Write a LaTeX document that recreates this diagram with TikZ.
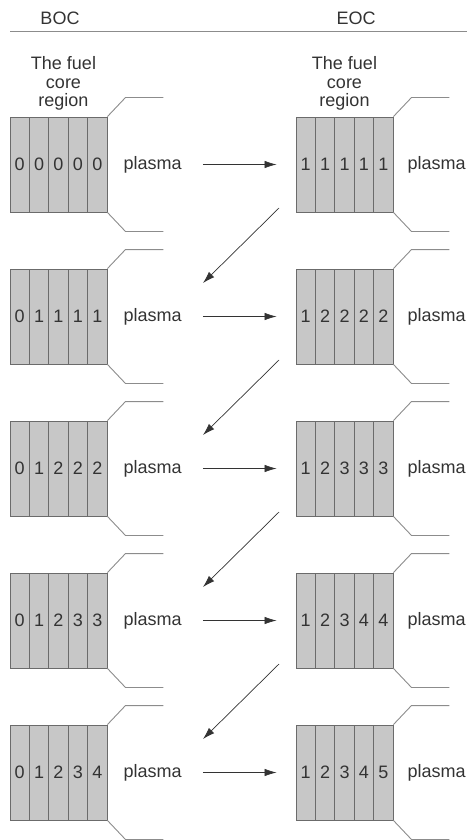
\documentclass[tikz,border=0pt]{standalone}
\usepackage{fontspec}
\setmainfont{Liberation Sans}
\usetikzlibrary{positioning,arrows.meta}
\definecolor{cellgray}{rgb}{0.78,0.78,0.78}
\definecolor{edgegray}{rgb}{0.42,0.42,0.42}
\definecolor{linegray}{rgb}{0.55,0.55,0.55}
\definecolor{textgray}{rgb}{0.2,0.2,0.2}

\begin{document}
\begin{tikzpicture} [
	x=1pt, y=-1pt,
	every node/.style = {
		inner sep=0pt,
		text=textgray,
		font=\fontsize{18}{18.5}\selectfont
	},
	cell/.style = {
		draw=edgegray,
		fill=cellgray,
		line width=0.9pt,
		minimum width=19.4pt,
		minimum height=95pt
	},
	flare/.style = {draw=linegray, line width=0.9pt},
	feed/.style = {draw=black!80, line width=0.7pt, -{Latex[length=12pt,width=7.5pt]}}
]

\useasboundingbox (0,0) rectangle (468,840);

\node (boc) at (60,18) {BOC};
\node (eoc) at (356,18) {EOC};
\coordinate (ruleL) at (10,31);
\coordinate (ruleR) at (467,31);
\draw[linegray, line width=0.9pt] (ruleL) -- (ruleR);

\foreach \r in {1,...,5} {
	\pgfmathsetmacro\rowy{164.5+152*(\r-1)}
	\foreach \c in {1,...,5} {
		\pgfmathtruncatemacro\bv{min(\c,\r)-1}
		\pgfmathtruncatemacro\ev{min(\c,\r)}
		\node[cell] (b\r-\c) at ({19.4*\c+0.3}, \rowy) {\bv};
		\node[cell] (e\r-\c) at ({19.4*\c+286.3}, \rowy) {\ev};
	}
	\node (pb\r) [right=16pt of b\r-5] {plasma};
	\node (pe\r) [right=14pt of e\r-5] {plasma};
	\draw[feed, shorten <=21pt, shorten >=19pt] (pb\r) -- (e\r-1);
	\draw[flare] (b\r-5.north east) -- ++(18,-19) -- ++(38,0);
	\draw[flare] (b\r-5.south east) -- ++(18,19) -- ++(38,0);
	\draw[flare] (e\r-5.north east) -- ++(18,-19) -- ++(38,0);
	\draw[flare] (e\r-5.south east) -- ++(18,19) -- ++(38,0);
}

\node (coreb) [above=6pt of b1-3, xshift=5pt, align=center] {The fuel\\core\\region};
\node (coree) [above=6pt of e1-3, align=center] {The fuel\\core\\region};

\foreach \r in {1,...,4} {
	\pgfmathsetmacro\rowy{164.5+152*(\r-1)}
	\coordinate (from\r) at (279, \rowy+43.5);
	\coordinate (to\r) at (203, \rowy+118.5);
	\draw[feed] (from\r) -- (to\r);
}

\end{tikzpicture}
\end{document}
